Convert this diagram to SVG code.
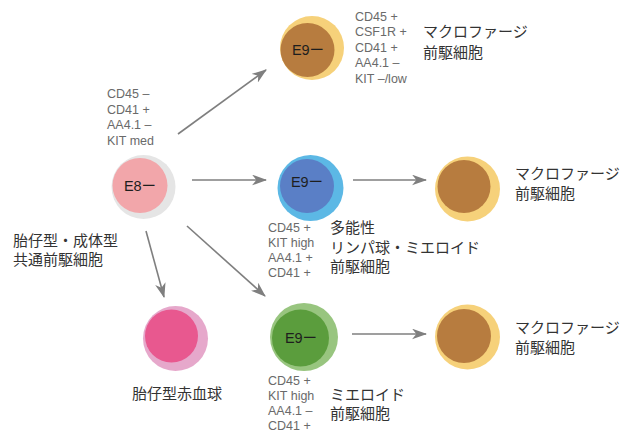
<svg xmlns="http://www.w3.org/2000/svg" width="624" height="434" viewBox="0 0 624 434">
<defs>
<style>
.mk{font-family:"Liberation Sans",Arial,sans-serif;font-size:12.5px;fill:#6a6a6a}
.jp{font-family:"Noto Sans CJK JP","Noto Sans",sans-serif;font-size:15px;fill:#333}
.id{font-family:"Liberation Sans","Noto Sans CJK JP",sans-serif;font-size:14.5px;fill:#1e1e1e;text-anchor:middle}
.arr{stroke:#7f7f7f;stroke-width:1.6;fill:none;marker-end:url(#ah)}
.oo{fill:#f6d17a}.oi{fill:#b77c3f}
</style>
<marker id="ah" viewBox="0 0 14 10" refX="13" refY="5" markerWidth="15" markerHeight="11" markerUnits="userSpaceOnUse" orient="auto">
<path d="M0,0 L14,5 L0,10 L4,5 Z" fill="#7f7f7f"/>
</marker>
</defs>
<rect width="624" height="434" fill="#fff"/>
<g id="connectors">
<line class="arr" x1="178" y1="134" x2="266" y2="70"/>
<line class="arr" x1="192" y1="180" x2="266" y2="180"/>
<line class="arr" x1="353" y1="180" x2="426" y2="180"/>
<line class="arr" x1="146" y1="231" x2="164" y2="297"/>
<line class="arr" x1="187" y1="226" x2="265" y2="296"/>
<line class="arr" x1="352" y1="334" x2="426" y2="334"/>
</g>
<g id="e8">
<circle cx="143.5" cy="187" r="32" fill="#e5e5e5"/>
<circle cx="140" cy="185.5" r="27.5" fill="#f2a6aa"/>
<text class="id" x="140" y="190.5">E8ー</text>
<text class="mk" x="107" y="98">CD45 –</text>
<text class="mk" x="107" y="113.5">CD41 +</text>
<text class="mk" x="107" y="129">AA4.1 –</text>
<text class="mk" x="107" y="144.5">KIT med</text>
<text class="jp" x="13" y="246">胎仔型・成体型</text>
<text class="jp" x="13" y="265">共通前駆細胞</text>
</g>
<g id="e9-macro">
<circle class="oo" cx="312" cy="48" r="32"/>
<circle class="oi" cx="307.5" cy="50" r="27"/>
<text class="id" x="308" y="55">E9ー</text>
<text class="mk" x="355" y="21">CD45 +</text>
<text class="mk" x="355" y="36">CSF1R +</text>
<text class="mk" x="355" y="51.5">CD41 +</text>
<text class="mk" x="355" y="67">AA4.1 –</text>
<text class="mk" x="355" y="82.5">KIT –/low</text>
<text class="jp" x="423" y="37">マクロファージ</text>
<text class="jp" x="423" y="58">前駆細胞</text>
</g>
<g id="e9-lmp">
<circle cx="310.5" cy="188" r="33" fill="#5cb8e5"/>
<circle cx="307" cy="186" r="27" fill="#5a7fc6"/>
<text class="id" x="307" y="187">E9ー</text>
<text class="mk" x="268" y="232">CD45 +</text>
<text class="mk" x="268" y="247">KIT high</text>
<text class="mk" x="268" y="262">AA4.1 +</text>
<text class="mk" x="268" y="277">CD41 +</text>
<text class="jp" x="330" y="233">多能性</text>
<text class="jp" x="330" y="252.5">リンパ球・ミエロイド</text>
<text class="jp" x="330" y="272">前駆細胞</text>
</g>
<g id="macro-mid">
<circle class="oo" cx="467.5" cy="189" r="32.5"/>
<circle class="oi" cx="464" cy="186.5" r="26.5"/>
<text class="jp" x="515" y="179">マクロファージ</text>
<text class="jp" x="515" y="199">前駆細胞</text>
</g>
<g id="ery">
<circle cx="175.5" cy="338.5" r="32.5" fill="#e6a8cb"/>
<circle cx="171.5" cy="336" r="26.5" fill="#e8588f"/>
<text class="jp" x="132" y="399">胎仔型赤血球</text>
</g>
<g id="e9-myeloid">
<circle cx="304" cy="337" r="34" fill="#98c57f"/>
<circle cx="300.5" cy="338" r="28.5" fill="#5b9d3d"/>
<text class="id" x="301" y="343">E9ー</text>
<text class="mk" x="268" y="385">CD45 +</text>
<text class="mk" x="268" y="400">KIT high</text>
<text class="mk" x="268" y="415">AA4.1 –</text>
<text class="mk" x="268" y="430">CD41 +</text>
<text class="jp" x="330" y="400">ミエロイド</text>
<text class="jp" x="330" y="419">前駆細胞</text>
</g>
<g id="macro-bot">
<circle class="oo" cx="467.5" cy="337" r="32.5"/>
<circle class="oi" cx="464" cy="336" r="27"/>
<text class="jp" x="515" y="333">マクロファージ</text>
<text class="jp" x="515" y="353">前駆細胞</text>
</g>
</svg>
